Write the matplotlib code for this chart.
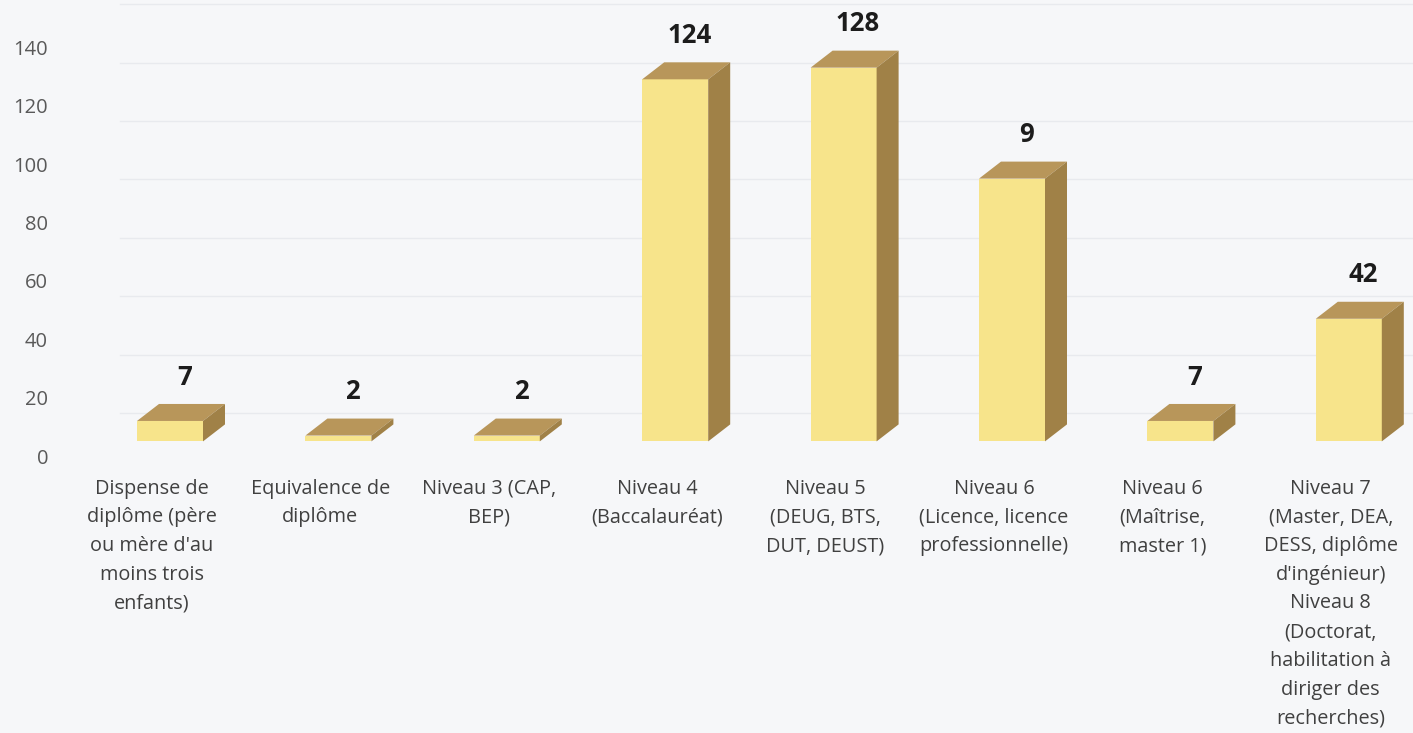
import matplotlib
matplotlib.use("Agg")
import matplotlib.pyplot as plt
from matplotlib.patches import Polygon
import numpy as np

categories = [
    "Dispense de\ndiplôme (père\nou mère d'au\nmoins trois\nenfants)",
    "Equivalence de\ndiplôme",
    "Niveau 3 (CAP,\nBEP)",
    "Niveau 4\n(Baccalauréat)",
    "Niveau 5\n(DEUG, BTS,\nDUT, DEUST)",
    "Niveau 6\n(Licence, licence\nprofessionnelle)",
    "Niveau 6\n(Maîtrise,\nmaster 1)",
    "Niveau 7\n(Master, DEA,\nDESS, diplôme\nd'ingénieur)\nNiveau 8\n(Doctorat,\nhabilitation à\ndiriger des\nrecherches)",
]
values = [7, 2, 2, 124, 128, 90, 7, 42]
value_labels = ["7", "2", "2", "124", "128", "9", "7", "42"]
yticks = [0, 20, 40, 60, 80, 100, 120, 140]

plt.rcParams['font.family'] = ['Open Sans', 'DejaVu Sans']

bg = '#f6f7f9'
front_col = '#f7e48b'
top_col = '#b8965a'
side_col = '#a08147'

W, H = 1413, 733
fig = plt.figure(figsize=(W / 100, H / 100), dpi=100, facecolor=bg)

# axes placement in pixels (from the top-left corner)
left_px, bottom_px = 62, 462
ax = fig.add_axes([left_px / W, (H - bottom_px) / H, (W - left_px) / W, bottom_px / H])
ax.set_facecolor(bg)

xpx = 168.4  # pixels per category
ypx = 2.92   # pixels per value unit
ax.set_xlim(-(152 - left_px) / xpx, (W - 152) / xpx)
ax.set_ylim(-(bottom_px - 456) / ypx, 456 / ypx)

floor = 5.0          # front face base sits a bit above the "0" label
wall = 14.7          # back-wall gridlines sit higher (3D depth)
dx = 22 / xpx
dy = 17 / ypx
shift = 18 / xpx
bw = 66 / xpx

# back wall gridlines
for t in yticks:
    ax.plot([-32 / xpx, 7.6], [t + wall, t + wall], color='#e8eaee', lw=1.0, zorder=0)

x = np.arange(len(values))
xc = x + shift
ax.bar(xc, values, width=bw, bottom=floor, color=front_col, edgecolor='none', zorder=3)

for xi, v, lab in zip(xc, values, value_labels):
    x0, x1 = xi - bw / 2, xi + bw / 2
    y0, y1 = floor, floor + v
    top = Polygon([(x0, y1), (x1, y1), (x1 + dx, y1 + dy), (x0 + dx, y1 + dy)],
                  closed=True, facecolor=top_col, edgecolor='none', zorder=3)
    side = Polygon([(x1, y0), (x1 + dx, y0 + dy), (x1 + dx, y1 + dy), (x1, y1)],
                   closed=True, facecolor=side_col, edgecolor='none', zorder=3)
    ax.add_patch(top)
    ax.add_patch(side)
    ax.text(xi + dx / 2 + 0.02, y1 + dy + 9.2, lab, ha='center', va='center',
            fontsize=18.5, fontweight='bold', color='#1c1c1c')

ax.set_yticks(yticks)
ax.set_yticklabels([str(t) for t in yticks], fontsize=14.5, color='#595959')
ax.set_xticks(x)
ax.set_xticklabels(categories, fontsize=14.3, color='#404040', linespacing=1.58)
ax.tick_params(axis='y', length=0, pad=10)
ax.tick_params(axis='x', length=0, pad=12)
for s in ax.spines.values():
    s.set_visible(False)

fig.savefig('out.png', dpi=100, facecolor=bg)
